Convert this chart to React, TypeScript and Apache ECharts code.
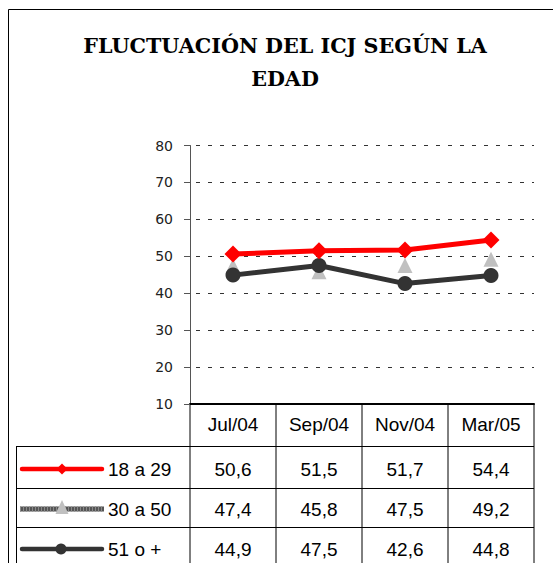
import React, { useEffect, useRef } from "react";
import * as echarts from "echarts";

const categories = ["Jul/04", "Sep/04", "Nov/04", "Mar/05"];
const seriesNames = ["18 a 29", "30 a 50", "51 o +"];
const s18a29 = [50.6, 51.5, 51.7, 54.4];
const s30a50 = [47.4, 45.8, 47.5, 49.2];
const s51mas = [44.9, 47.5, 42.6, 44.8];
const tableLabels = [
  ["50,6", "51,5", "51,7", "54,4"],
  ["47,4", "45,8", "47,5", "49,2"],
  ["44,9", "47,5", "42,6", "44,8"],
];
const titleText = "FLUCTUACIÓN DEL ICJ SEGÚN LA\nEDAD";

const GL = 190;
const GR = 534;
const GT = 145.5;
const GB = 404;
const COLW = (GR - GL) / 4;
const ROWS = [446, 488, 527];

export default function App() {
  const ref = useRef<HTMLDivElement>(null);
  useEffect(() => {
    if (!ref.current) return;
    const chart = echarts.init(ref.current, null, { renderer: "svg" });
    const sans = "Liberation Sans, Arial, sans-serif";
    const graphics: any[] = [];
    graphics.push({ type: "line", shape: { x1: 8.5, y1: 9.5, x2: 553, y2: 9.5 }, style: { stroke: "#000", lineWidth: 1 } });
    graphics.push({ type: "line", shape: { x1: 8.5, y1: 9.5, x2: 8.5, y2: 563 }, style: { stroke: "#000", lineWidth: 1 } });
    const stroke = "#000";
    for (let c = 0; c <= 4; c++) {
      const x = GL + c * COLW;
      graphics.push({ type: "line", shape: { x1: x, y1: GB, x2: x, y2: 563 }, style: { stroke, lineWidth: 1 } });
    }
    graphics.push({ type: "line", shape: { x1: 16.5, y1: ROWS[0], x2: 16.5, y2: 563 }, style: { stroke, lineWidth: 1 } });
    ROWS.forEach((y) => {
      graphics.push({ type: "line", shape: { x1: 16.5, y1: y + 0.5, x2: GR, y2: y + 0.5 }, style: { stroke, lineWidth: 1 } });
    });
    categories.forEach((c, i) => {
      graphics.push({
        type: "text",
        x: GL + COLW * (i + 0.5),
        y: 424,
        style: { text: c, fontFamily: sans, fontSize: 19, fill: "#000", align: "center", verticalAlign: "middle" },
      });
    });
    const rowCenters = [469, 509, 549];
    tableLabels.forEach((row, r) => {
      row.forEach((v, i) => {
        graphics.push({
          type: "text",
          x: GL + COLW * (i + 0.5),
          y: rowCenters[r],
          style: { text: v, fontFamily: sans, fontSize: 19, fill: "#000", align: "center", verticalAlign: "middle" },
        });
      });
      graphics.push({
        type: "text",
        x: 108,
        y: rowCenters[r],
        style: { text: seriesNames[r], fontFamily: sans, fontSize: 19, fill: "#000", align: "left", verticalAlign: "middle" },
      });
    });
    const ky = rowCenters;
    graphics.push({ type: "line", shape: { x1: 22, y1: ky[0], x2: 102, y2: ky[0] }, style: { stroke: "#FF0000", lineWidth: 4.5, lineCap: "round" } });
    graphics.push({ type: "polygon", shape: { points: [[62, ky[0] - 5.5], [67.5, ky[0]], [62, ky[0] + 5.5], [56.5, ky[0]]] }, style: { fill: "#FF0000" } });
    graphics.push({ type: "rect", shape: { x: 20, y: ky[1] - 2.5, width: 84, height: 5 }, style: { fill: "#555" } });
    graphics.push({ type: "line", shape: { x1: 20, y1: ky[1], x2: 104, y2: ky[1] }, style: { stroke: "#888", lineWidth: 5, lineDash: [1, 2] } });
    graphics.push({ type: "polygon", shape: { points: [[62, ky[1] - 9], [68.5, ky[1] + 5], [55.5, ky[1] + 5]] }, style: { fill: "#C0C0C0" } });
    graphics.push({ type: "line", shape: { x1: 22, y1: ky[2], x2: 102, y2: ky[2] }, style: { stroke: "#333", lineWidth: 4.5, lineCap: "round" } });
    graphics.push({ type: "circle", shape: { cx: 61, cy: ky[2], r: 5.5 }, style: { fill: "#333" } });

    chart.setOption({
      animation: false,
      backgroundColor: "#fff",
      title: {
        text: titleText,
        left: 280,
        top: 24,
        textAlign: "center",
        textStyle: {
          fontFamily: "DejaVu Serif",
          fontSize: 20.7,
          fontWeight: "bold",
          color: "#000",
          lineHeight: 33,
        },
      },
      grid: { left: GL, top: GT, width: GR - GL, height: GB - GT, containLabel: false },
      xAxis: {
        type: "category",
        data: categories,
        boundaryGap: true,
        axisLine: { show: true, lineStyle: { color: "#000", width: 2 } },
        axisTick: { show: false },
        axisLabel: { show: false },
        splitLine: { show: false },
      },
      yAxis: {
        type: "value",
        min: 10,
        max: 80,
        interval: 10,
        axisLine: { show: true, lineStyle: { color: "#555", width: 1 } },
        axisTick: { show: true, length: 6, lineStyle: { color: "#555" } },
        axisLabel: {
          margin: 17,
          fontFamily: "DejaVu Sans, sans-serif",
          fontSize: 14,
          color: "#222",
        },
        splitLine: { show: true, lineStyle: { color: "#333", width: 1, type: [4, 8], dashOffset: 6 } },
      },
      series: [
        {
          name: seriesNames[1],
          type: "line",
          data: s30a50,
          z: 2,
          symbol: "triangle",
          symbolSize: 15,
          lineStyle: { width: 0, opacity: 0 },
          itemStyle: { color: "#C0C0C0" },
        },
        {
          name: seriesNames[2],
          type: "line",
          data: s51mas,
          z: 3,
          symbol: "circle",
          symbolSize: 15,
          lineStyle: { width: 5, color: "#333" },
          itemStyle: { color: "#333" },
        },
        {
          name: seriesNames[0],
          type: "line",
          data: s18a29,
          z: 4,
          symbol: "diamond",
          symbolSize: 17,
          lineStyle: { width: 5, color: "#FF0000" },
          itemStyle: { color: "#FF0000" },
        },
      ],
      graphic: graphics,
    });
    return () => chart.dispose();
  }, []);
  return <div ref={ref} style={{ position: "absolute", left: 0, top: 0, width: 553, height: 563 }} />;
}
